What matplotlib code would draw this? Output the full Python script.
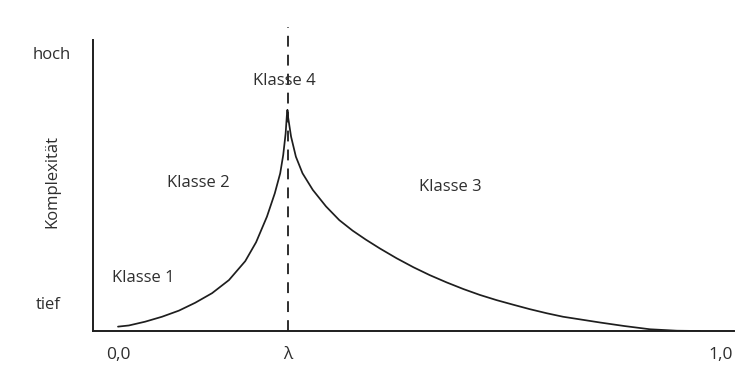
import matplotlib.pyplot as plt

# curve (x: 0..1 order parameter, y: complexity 0..1)
rise_x = [0.000, 0.018, 0.045, 0.073, 0.101, 0.128, 0.156, 0.184, 0.211, 0.229,
          0.247, 0.260, 0.269, 0.274, 0.278, 0.280, 0.281]
rise_y = [0.015, 0.019, 0.032, 0.049, 0.070, 0.097, 0.130, 0.175, 0.240, 0.305,
          0.393, 0.473, 0.542, 0.605, 0.679, 0.740, 0.760]
fall_x = [0.281, 0.282, 0.287, 0.295, 0.306, 0.323, 0.345, 0.367, 0.389, 0.411,
          0.434, 0.462, 0.490, 0.517, 0.545, 0.573, 0.600, 0.628, 0.656, 0.683,
          0.711, 0.738, 0.766, 0.800, 0.840, 0.882, 0.927, 0.965]
fall_y = [0.760, 0.736, 0.668, 0.599, 0.542, 0.485, 0.428, 0.381, 0.345, 0.314,
          0.284, 0.250, 0.219, 0.192, 0.167, 0.144, 0.124, 0.106, 0.090, 0.075,
          0.061, 0.049, 0.040, 0.029, 0.017, 0.006, 0.001, 0.000]

lam = 0.282
x_ticks = [0.0, lam, 1.0]
x_tick_labels = ["0,0", "λ", "1,0"]
y_tick_labels = ["tief", "hoch"]
classes = ["Klasse 1", "Klasse 2", "Klasse 3", "Klasse 4"]

plt.rcParams['font.family'] = ['Open Sans', 'DejaVu Sans']
W, H = 746, 374
fig = plt.figure(figsize=(W / 100, H / 100), dpi=100)
ax = fig.add_axes([93 / W, 1 - 331 / H, (734 - 93) / W, (331 - 40) / H])
ax.set_xlim(-25 / 603, 616 / 603)
ax.set_ylim(0, 1)

line_c = '#1e1e1e'
text_c = '#2e2e2e'

ax.plot(rise_x + fall_x, rise_y + fall_y, color=line_c, lw=1.25,
        solid_joinstyle='round', solid_capstyle='round')
ax.plot([lam, lam], [0, 1.045], color=line_c, lw=1.3, ls=(0, (6, 4.5)), clip_on=False)

for s in ['top', 'right']:
    ax.spines[s].set_visible(False)
for s in ['left', 'bottom']:
    ax.spines[s].set_color(line_c)
    ax.spines[s].set_linewidth(1.4)
ax.set_xticks([])
ax.set_yticks([])


def px_text(x, y, s, **kw):
    fig.text(x / W, 1 - y / H, s, color=text_c, fontsize=12, va='center', **kw)


px_text(33, 55, y_tick_labels[1], ha='left')
px_text(36, 305, y_tick_labels[0], ha='left')
px_text(52, 182, "Komplexität", ha='center', rotation=90)

for xt, lab in zip(x_ticks, x_tick_labels):
    fig.text((118 + xt * 603) / W, 1 - 355 / H, lab, color=text_c, fontsize=12.5,
             ha='center', va='center')

px_text(143, 278, classes[0], ha='center')
px_text(198, 183, classes[1], ha='center')
px_text(450, 187, classes[2], ha='center')
px_text(284, 81, classes[3], ha='center')

fig.savefig("out.png", dpi=100, facecolor='white')
